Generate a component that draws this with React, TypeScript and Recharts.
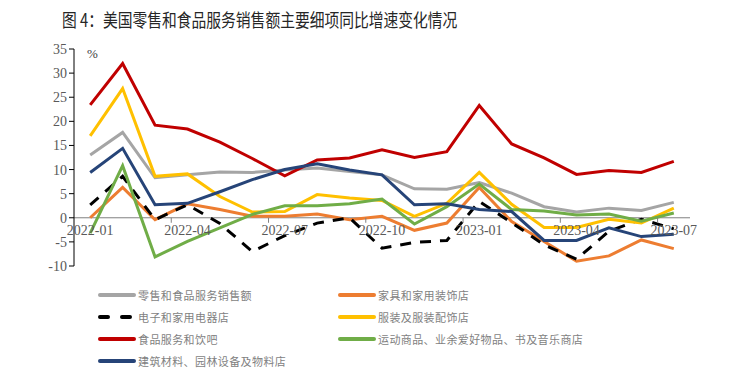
import React from "react";
import { LineChart, Line, XAxis, YAxis, ReferenceLine } from "recharts";

const months = [
  "2022-01", "2022-02", "2022-03", "2022-04", "2022-05", "2022-06", "2022-07",
  "2022-08", "2022-09", "2022-10", "2022-11", "2022-12", "2023-01", "2023-02",
  "2023-03", "2023-04", "2023-05", "2023-06", "2023-07",
];

const total = [13.0, 17.7, 8.3, 8.9, 9.5, 9.4, 9.9, 10.3, 9.6, 8.9, 6.0, 5.9, 7.3, 5.1, 2.3, 1.2, 2.0, 1.5, 3.2];
const furniture = [0.0, 6.3, -0.4, 2.9, 1.7, 0.3, 0.3, 0.8, -0.4, 0.3, -2.6, -1.1, 6.3, -0.8, -4.9, -9.0, -7.9, -4.6, -6.4];
const electronics = [2.7, 8.6, -0.4, 2.7, -1.2, -7.0, -3.7, -1.1, 0.0, -6.3, -5.1, -4.7, 3.4, -1.0, -5.6, -8.6, -2.8, -0.3, -2.3];
const clothing = [17.0, 26.8, 8.6, 9.1, 4.4, 1.2, 1.3, 4.8, 4.1, 3.6, 0.3, 3.0, 9.4, 2.8, -2.0, -2.0, -0.3, -1.1, 2.0];
const food = [23.4, 32.0, 19.2, 18.4, 15.7, 12.3, 8.7, 12.0, 12.4, 14.1, 12.5, 13.7, 23.3, 15.3, 12.4, 9.0, 9.8, 9.4, 11.7];
const sporting = [-3.2, 10.8, -8.1, -4.9, -2.1, 0.7, 2.5, 2.5, 2.9, 3.9, -1.3, 2.3, 7.0, 1.7, 1.4, 0.6, 0.8, -0.7, 1.0];
const building = [9.4, 14.4, 2.7, 3.0, 5.4, 7.9, 10.0, 11.2, 9.9, 8.9, 2.7, 2.9, 1.7, 1.3, -4.7, -4.7, -2.1, -3.9, -3.4];

const yTicks = [-10, -5, 0, 5, 10, 15, 20, 25, 30, 35];

const series = [
  { key: "total", name: "零售和食品服务销售额", color: "#A5A5A5", values: total },
  { key: "furniture", name: "家具和家用装饰店", color: "#ED7D31", values: furniture },
  { key: "electronics", name: "电子和家用电器店", color: "#000000", values: electronics, dash: true },
  { key: "clothing", name: "服装及服装配饰店", color: "#FFC000", values: clothing },
  { key: "food", name: "食品服务和饮吧", color: "#C00000", values: food },
  { key: "sporting", name: "运动商品、业余爱好物品、书及音乐商店", color: "#70AD47", values: sporting },
  { key: "building", name: "建筑材料、园林设备及物料店", color: "#264478", values: building },
];

const data = months.map((m, i) => {
  const row: any = { month: m };
  series.forEach((s) => (row[s.key] = s.values[i]));
  return row;
});

// plot box
const W = 746;
const H = 300;
const LEFT = 74;
const RIGHT = 690;
const TOP = 49;
const BOTTOM = 266;
const ZERO_Y = TOP + ((BOTTOM - TOP) * 35) / 45;
const BAND = (RIGHT - LEFT) / months.length;

const serif = "'Liberation Serif', 'Times New Roman', serif";
const cjk = "'Noto Sans CJK SC', 'Noto Sans', sans-serif";

function XTick(props: any) {
  const { x, payload } = props;
  const i = payload.index;
  if (i % 3 !== 0) return <g />;
  return (
    <g>
      {i > 0 && (
        <line x1={x - BAND / 2} x2={x - BAND / 2} y1={ZERO_Y} y2={ZERO_Y + 5} stroke="#808080" strokeWidth={1} />
      )}
      <text x={x} y={ZERO_Y + 17} textAnchor="middle" fill="#595959" fontSize={14} fontFamily={serif}>
        {payload.value}
      </text>
    </g>
  );
}

export default function App() {
  // legend order: two columns
  const legendRows = [
    [series[0], series[1]],
    [series[2], series[3]],
    [series[4], series[5]],
    [series[6]],
  ];

  return (
    <div style={{ position: "absolute", left: 0, top: 0, width: W, height: 391, background: "#fff" }}>
      <div
        style={{
          position: "absolute",
          left: 62,
          top: 6,
          fontSize: 18,
          fontFamily: cjk,
          color: "#262626",
          whiteSpace: "nowrap",
          transform: "scaleX(0.82)",
          transformOrigin: "left center",
        }}
      >
        图 4：美国零售和食品服务销售额主要细项同比增速变化情况
      </div>
      <div style={{ position: "absolute", left: 87, top: 46, fontSize: 13, fontFamily: serif, color: "#404040" }}>%</div>
      <div style={{ position: "absolute", left: 0, top: 0 }}>
        <LineChart width={W} height={H} data={data} margin={{ top: TOP, right: W - RIGHT, left: 0, bottom: 4 }}>
          <XAxis
            dataKey="month"
            axisLine={false}
            tickLine={false}
            interval={0}
            height={30}
            padding={{ left: BAND / 2, right: BAND / 2 }}
            tick={<XTick />}
          />
          <YAxis
            width={LEFT}
            domain={[-10, 35]}
            ticks={yTicks}
            allowDataOverflow
            axisLine={{ stroke: "#000", strokeWidth: 1 }}
            tickLine={{ stroke: "#000", strokeWidth: 1 }}
            tickSize={5}
            tick={{ fill: "#595959", fontSize: 14, fontFamily: serif }}
          />
          <ReferenceLine y={0} stroke="#808080" strokeWidth={1} />
          {series.map((s) => (
            <Line
              key={s.key}
              dataKey={s.key}
              name={s.name}
              stroke={s.color}
              strokeWidth={3}
              strokeDasharray={s.dash ? "11 9" : undefined}
              dot={false}
              activeDot={false}
              isAnimationActive={false}
            />
          ))}
        </LineChart>
      </div>
      {legendRows.map((row, r) =>
        row.map((s, c) => (
          <div
            key={s.key}
            style={{
              position: "absolute",
              left: c === 0 ? 98 : 338,
              top: 295 + r * 22 - 8,
              height: 16,
              display: "flex",
              alignItems: "center",
              whiteSpace: "nowrap",
            }}
          >
            <svg width={40} height={16} style={{ display: "block" }}>
              <line
                x1={2}
                x2={36}
                y1={8}
                y2={8}
                stroke={s.color}
                strokeWidth={4}
                strokeLinecap="round"
                strokeDasharray={s.dash ? "8 14" : undefined}
              />
            </svg>
            <span style={{ fontSize: 11, fontFamily: cjk, color: "#7f7f7f", letterSpacing: 0.4 }}>{s.name}</span>
          </div>
        ))
      )}
    </div>
  );
}
